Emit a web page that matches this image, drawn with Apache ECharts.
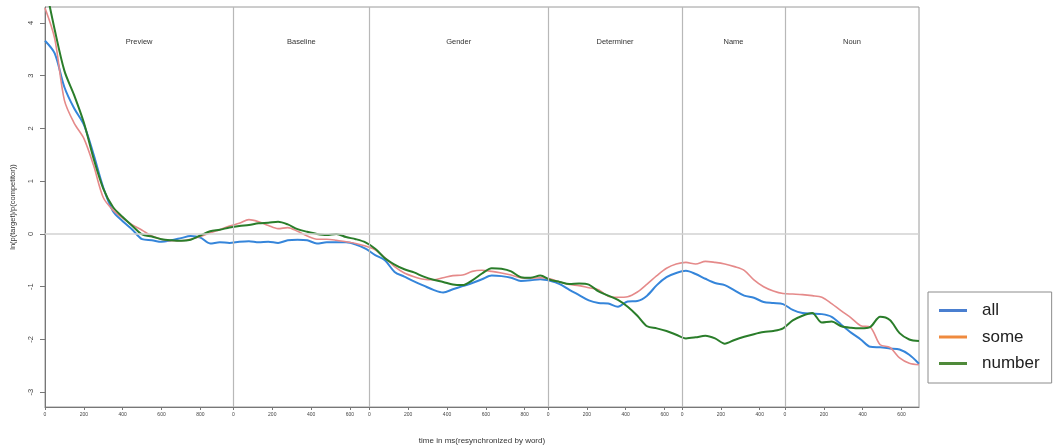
<!DOCTYPE html>
<html lang="en">
<head>
<meta charset="UTF-8">
<title>ln(p(target)/p(competitor)) over time</title>
<script src="https://cdn.jsdelivr.net/npm/echarts@6/dist/echarts.min.js"></script>
<style>
    html, body { margin: 0; padding: 0; background: #fff; }
    #main { width: 1057px; height: 448px; }
</style>
</head>
<body>
<div id="main"></div>
<script type="text/javascript">
    // word segments, each one resynchronized to 0 ms
    var segments = ['Preview', 'Baseline', 'Gender', 'Determiner', 'Name', 'Noun'];
    var segLengths = [970, 700, 920, 690, 530, 690];
    var yTicks = [-3, -2, -1, 0, 1, 2, 3, 4];
    var step = 50; // ms between samples, continuous over all segments

    var allData = [
        3.66, 3.42, 2.78, 2.38, 2.07, 1.51, 0.88, 0.43, 0.24, 0.08,
        -0.10, -0.12, -0.15, -0.12, -0.08, -0.04, -0.07, -0.18, -0.16, -0.17,
        -0.15, -0.14, -0.16, -0.15, -0.17, -0.12, -0.11, -0.12, -0.18, -0.16,
        -0.16, -0.16, -0.20, -0.28, -0.40, -0.50, -0.72, -0.81, -0.90, -0.98,
        -1.06, -1.11, -1.05, -0.99, -0.93, -0.86, -0.79, -0.80, -0.83, -0.89,
        -0.88, -0.86, -0.89, -0.95, -1.06, -1.16, -1.26, -1.31, -1.32, -1.38,
        -1.28, -1.27, -1.17, -0.97, -0.82, -0.74, -0.70, -0.76, -0.85, -0.93,
        -0.97, -1.07, -1.17, -1.21, -1.29, -1.31, -1.33, -1.44, -1.50, -1.51,
        -1.52, -1.57, -1.72, -1.87, -2.00, -2.14, -2.15, -2.17, -2.19, -2.29,
        -2.46
    ];
    var someData = [
        4.28, 3.70, 2.53, 2.10, 1.81, 1.30, 0.69, 0.45, 0.30, 0.17,
        0.07, -0.04, -0.10, -0.13, -0.13, -0.10, -0.05, 0.02, 0.08, 0.15,
        0.20, 0.27, 0.23, 0.16, 0.10, 0.12, 0.05, -0.04, -0.10, -0.10,
        -0.12, -0.15, -0.18, -0.23, -0.30, -0.45, -0.62, -0.74, -0.81, -0.86,
        -0.87, -0.83, -0.79, -0.78, -0.71, -0.69, -0.71, -0.74, -0.78, -0.83,
        -0.84, -0.83, -0.85, -0.91, -0.96, -0.98, -1.02, -1.06, -1.18, -1.20,
        -1.19, -1.10, -0.95, -0.79, -0.65, -0.57, -0.54, -0.57, -0.52, -0.54,
        -0.57, -0.62, -0.69, -0.87, -1.00, -1.08, -1.13, -1.14, -1.15, -1.17,
        -1.20, -1.32, -1.46, -1.59, -1.74, -1.77, -2.10, -2.15, -2.35, -2.45,
        -2.48
    ];
    var numberData = [
        4.75, 3.87, 3.09, 2.63, 2.11, 1.43, 0.86, 0.51, 0.32, 0.15,
        -0.01, -0.05, -0.10, -0.12, -0.13, -0.11, -0.03, 0.05, 0.08, 0.12,
        0.15, 0.17, 0.20, 0.21, 0.23, 0.18, 0.09, 0.04, 0.00, -0.02,
        0.00, -0.06, -0.10, -0.16, -0.28, -0.46, -0.58, -0.67, -0.73, -0.81,
        -0.87, -0.91, -0.96, -0.97, -0.88, -0.75, -0.65, -0.66, -0.71, -0.82,
        -0.83, -0.79, -0.87, -0.91, -0.95, -0.94, -0.96, -1.09, -1.17, -1.25,
        -1.38, -1.55, -1.75, -1.79, -1.84, -1.91, -1.98, -1.96, -1.93, -1.98,
        -2.08, -2.01, -1.95, -1.90, -1.86, -1.84, -1.79, -1.64, -1.55, -1.50,
        -1.68, -1.66, -1.75, -1.78, -1.79, -1.76, -1.57, -1.63, -1.88, -2.00,
        -2.03
    ];

    // segment start times on the continuous axis
    var segStarts = [];
    var total = 0;
    for (var i = 0; i < segLengths.length; i++) {
        segStarts.push(total);
        total += segLengths[i];
    }
    // ticks every 200 ms inside each segment
    var xTicks = [];
    for (var i = 0; i < segLengths.length; i++) {
        for (var t = 0; t < segLengths[i]; t += 200) {
            xTicks.push(segStarts[i] + t);
        }
    }
    function localTime(v) {
        var s = 0;
        for (var i = 0; i < segStarts.length; i++) {
            if (v >= segStarts[i]) s = segStarts[i];
        }
        return String(Math.round(v - s));
    }
    function toPairs(arr) {
        return arr.map(function (v, i) { return [i * step, v]; });
    }

    var boundaryLines = segStarts.slice(1).map(function (s) { return {xAxis: s}; });
    boundaryLines.push({yAxis: 0, lineStyle: {color: '#d2d2d2', width: 1.6}});
    var segAreas = segments.map(function (name, i) {
        return [{name: name, xAxis: segStarts[i]}, {xAxis: segStarts[i] + segLengths[i]}];
    });

    var option = {
        animation: false,
        textStyle: {fontFamily: 'Liberation Sans'},
        grid: {
            left: 45, right: 138, top: 7, bottom: 41,
            show: true, borderColor: '#9a9a9a', borderWidth: 1,
            containLabel: false, outerBoundsMode: 'none'
        },
        legend: {
            orient: 'vertical',
            left: 928, top: 292,
            padding: [10, 12, 11, 11],
            itemGap: 9.5, itemWidth: 28, itemHeight: 3,
            icon: 'rect',
            borderColor: '#8c8c8c', borderWidth: 1, borderRadius: 0,
            selectedMode: false,
            textStyle: {fontFamily: 'Liberation Sans', fontSize: 17, color: '#222', padding: [0, 0, 0, 10]},
            data: [
                {name: 'all', itemStyle: {color: '#4a7fd0'}},
                {name: 'some', itemStyle: {color: '#ef8a3e'}},
                {name: 'number', itemStyle: {color: '#4f8a3a'}}
            ]
        },
        xAxis: {
            type: 'value', min: 0, max: total,
            name: 'time in ms(resynchronized by word)',
            nameLocation: 'middle', nameGap: 30,
            nameTextStyle: {fontSize: 8, color: '#333'},
            axisLine: {show: true, onZero: false, lineStyle: {color: '#777'}},
            axisTick: {show: true, length: 3, customValues: xTicks, lineStyle: {color: '#777'}},
            axisLabel: {customValues: xTicks, fontSize: 5, color: '#444', margin: 5, formatter: localTime},
            splitLine: {show: false}
        },
        yAxis: {
            type: 'value', min: -3.28, max: 4.3,
            name: 'ln(p(target)/p(competitor))',
            nameLocation: 'middle', nameGap: 28, nameRotate: 90,
            nameTextStyle: {fontSize: 7.5, color: '#333'},
            axisLine: {show: true, onZero: false, lineStyle: {color: '#777'}},
            axisTick: {show: true, length: 5, customValues: yTicks, lineStyle: {color: '#777'}},
            axisLabel: {customValues: yTicks, rotate: 90, fontSize: 7.5, color: '#444', margin: 10},
            splitLine: {show: false}
        },
        series: [
            {
                name: 'guides',
                type: 'line',
                data: [],
                silent: true,
                markLine: {
                    silent: true,
                    symbol: ['none', 'none'],
                    label: {show: false},
                    lineStyle: {color: '#b8b8b8', type: 'solid', width: 1.2},
                    data: boundaryLines
                },
                markArea: {
                    silent: true,
                    itemStyle: {color: 'rgba(0,0,0,0)'},
                    label: {position: 'insideTop', distance: 31, fontSize: 7.5, color: '#333'},
                    data: segAreas
                }
            },
            {
                name: 'all', type: 'line', symbol: 'none', smooth: 0.3,
                color: '#3585da',
                lineStyle: {width: 2, color: '#3585da'},
                data: toPairs(allData)
            },
            {
                name: 'some', type: 'line', symbol: 'none', smooth: 0.3,
                color: '#e58a8a',
                lineStyle: {width: 1.6, color: '#e58a8a'},
                data: toPairs(someData)
            },
            {
                name: 'number', type: 'line', symbol: 'none', smooth: 0.3,
                color: '#2a7d2a',
                lineStyle: {width: 2, color: '#2a7d2a'},
                data: toPairs(numberData)
            }
        ]
    };

    var myChart = echarts.init(document.getElementById('main'));
    myChart.setOption(option);
</script>
</body>
</html>
